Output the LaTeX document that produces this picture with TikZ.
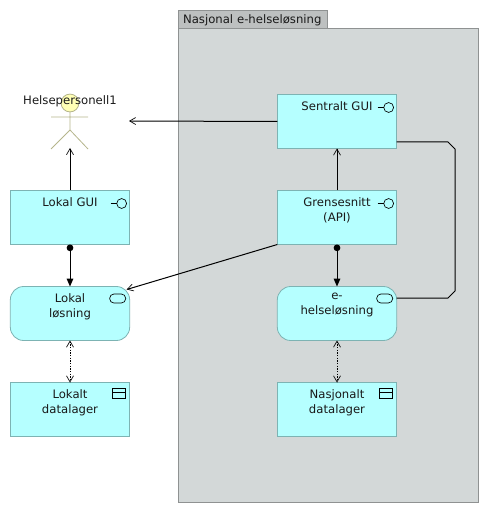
\documentclass[tikz,border=0pt]{standalone}
\usepackage{fontspec}
\setmainfont{DejaVu Sans}
\usetikzlibrary{arrows.meta,calc}
\definecolor{boxfill}{HTML}{B5FFFF}
\definecolor{boxline}{HTML}{7DB3B3}
\definecolor{groupfill}{HTML}{D3D8D8}
\definecolor{tabfill}{HTML}{BDC0C0}
\definecolor{groupline}{HTML}{8F9292}
\definecolor{actorfill}{HTML}{FFFFB5}
\definecolor{actorline}{HTML}{B5B58C}
\newcommand{\boxtext}[1]{\parbox[c][40.5pt][t]{85pt}{\centering\vspace{5pt}\baselineskip=11.25pt #1}}
\tikzset{
  x=0.75pt,y=-0.75pt,
  every node/.style={font=\fontsize{8.75}{11.25}\selectfont,text=black!90},
  elem/.style={draw=boxline,fill=boxfill,line width=0.6pt,inner sep=0pt,outer sep=0pt,minimum width=89.5pt,minimum height=40.5pt},
  apprect/.style={elem},
  appround/.style={elem,rounded corners=10pt},
  icon/.style={draw=black,line width=0.5pt},
  conn/.style={draw=black,line width=0.75pt},
  openarrow/.style={conn,-{Straight Barb[length=4.5pt,width=5.2pt,line width=0.5pt]}},
  composed/.style={conn,{Circle[length=5pt,width=5pt]}-{Triangle[length=6pt,width=5pt]}},
  access/.style={conn,line width=0.6pt,dash pattern=on 1pt off 1pt,{Straight Barb[length=4.5pt,width=5.2pt,line width=0.5pt,sep=0pt]}-{Straight Barb[length=4.5pt,width=5.2pt,line width=0.5pt]}},
  actorpart/.style={draw=actorline,line width=0.6pt},
}
\newcommand{\ifaceicon}[1]{
  \draw[icon] ($(#1.north east)+(-8,13)$) circle[radius=3.7pt];
  \draw[icon] ($(#1.north east)+(-19,13)$) -- ($(#1.north east)+(-13,13)$);
}
\newcommand{\svcicon}[1]{
  \draw[icon,rounded corners=3.2pt] ($(#1.north east)+(-20,7.5)$) rectangle ($(#1.north east)+(-4,16.5)$);
}
\newcommand{\dataicon}[1]{
  \draw[icon] ($(#1.north east)+(-17,6)$) rectangle ($(#1.north east)+(-4,16)$);
  \draw[icon] ($(#1.north east)+(-17,10)$) -- ($(#1.north east)+(-4,10)$);
}
\begin{document}
\begin{tikzpicture}
\useasboundingbox (0,0) rectangle (489,513);
% group
\node[draw=groupline,fill=tabfill,line width=0.6pt,inner sep=0pt,minimum width=112pt,minimum height=13.5pt,anchor=north west,text width=110pt,align=left] (tab) at (178,10.5) {\hspace*{2.5pt}\raisebox{-0.8pt}{Nasjonal e-helseløsning}};
\node[draw=groupline,fill=groupfill,line width=0.6pt,inner sep=0pt,minimum width=225pt,minimum height=355.5pt,anchor=north west] (group) at (178,28) {};
% elements
\node[apprect] (lgui) at (70,217.5) {\boxtext{Lokal GUI}};
\node[appround] (lsol) at (70,313.5) {\boxtext{Lokal\\løsning}};
\node[apprect] (ldata) at (70,409.5) {\boxtext{Lokalt\\datalager}};
\node[apprect] (sgui) at (337,121.5) {\boxtext{Sentralt GUI}};
\node[apprect] (api) at (337,217.5) {\boxtext{Grensesnitt\\(API)}};
\node[appround] (esol) at (337,313.5) {\boxtext{e-\\helseløsning}};
\node[apprect] (ndata) at (337,409.5) {\boxtext{Nasjonalt\\datalager}};
\ifaceicon{lgui}\ifaceicon{sgui}\ifaceicon{api}
\svcicon{lsol}\svcicon{esol}
\dataicon{ldata}\dataicon{ndata}
% actor
\draw[actorpart,fill=actorfill] (70,103) circle[radius=6.7pt];
\draw[actorpart] (70,112) -- (70,130) (51,117) -- (88,117) (51,149) -- (70,130) -- (88,149);
\node[inner sep=0pt] (actor) at (70,101) {Helsepersonell1};
\coordinate (actorfoot) at (70,148);
\coordinate (actorside) at (129,121);
% connectors
\draw[openarrow] (lgui.north) -- (actorfoot);
\draw[openarrow] (sgui.west) -- (actorside);
\draw[openarrow] (api.north) -- (sgui.south);
\draw[openarrow] (api.south west) -- ($(lsol.north east)+(-3,3)$);
\draw[composed] (lgui.south) -- (lsol.north);
\draw[composed] (api.south) -- (esol.north);
\draw[access] (lsol.south) -- (ldata.north);
\draw[access] (esol.south) -- (ndata.north);
\draw[conn,rounded corners=0pt] ($(sgui.north east)+(0,47.5)$) -- (448,142) -- (455,149) -- (455,291) -- (448,298) -- ($(esol.north east)+(0,11.5)$);
\end{tikzpicture}
\end{document}
